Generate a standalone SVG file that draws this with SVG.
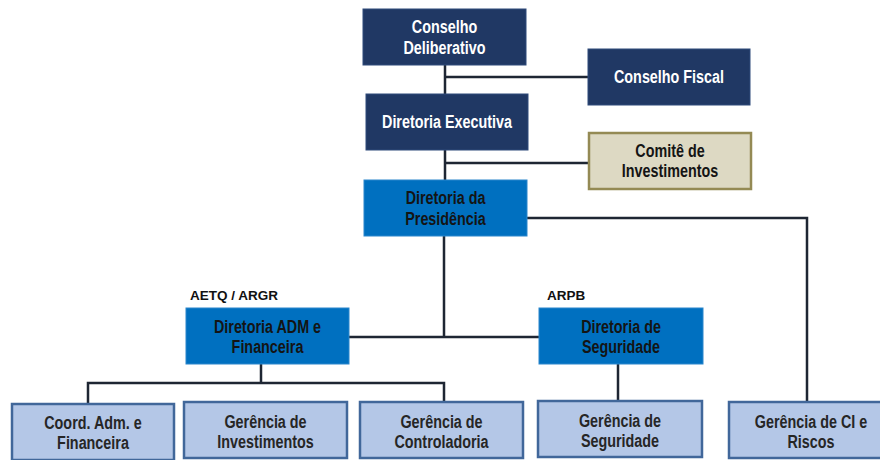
<svg xmlns="http://www.w3.org/2000/svg" width="880" height="460" viewBox="0 0 880 460">
<style>
.navy{fill:#203864;stroke:#2e4a7a;stroke-width:1}
.blue{fill:#0070c0;stroke:#2a86cc;stroke-width:1}
.tan{fill:#ddd9c3;stroke:#948a54;stroke-width:2.5}
.light{fill:#b4c7e7;stroke:#41679a;stroke-width:2.5}
.t{font-family:"Liberation Sans",Arial,sans-serif;font-weight:bold;font-size:17.5px;text-anchor:middle}
.w{fill:#ffffff}
.k{fill:#141414}
.g{fill:#262626}
.lbl{font-family:"Liberation Sans",Arial,sans-serif;font-weight:bold;font-size:13.5px;fill:#111111}
.c{fill:none;stroke:#1e2633;stroke-width:2.5}
</style>
<rect width="880" height="460" fill="#ffffff"/>
<g id="connectors">
<path class="c" d="M445 65V94M445 77H588"/>
<path class="c" d="M445 150V180M446 163H588"/>
<path class="c" d="M527 218H807V402"/>
<path class="c" d="M444 236V337M349 337H539"/>
<path class="c" d="M261 364V383M88 404V383H444V402"/>
<path class="c" d="M618 364V401"/>
</g>
<g id="conselho-deliberativo">
<rect class="navy" x="363" y="9" width="163" height="56"/>
<text class="t w" transform="translate(444.5 33) scale(0.82 1)">Conselho</text>
<text class="t w" transform="translate(444.5 54) scale(0.82 1)">Deliberativo</text>
</g>
<g id="conselho-fiscal">
<rect class="navy" x="588" y="49" width="162" height="56"/>
<text class="t w" transform="translate(669 83) scale(0.82 1)">Conselho Fiscal</text>
</g>
<g id="diretoria-executiva">
<rect class="navy" x="366" y="94" width="162" height="56"/>
<text class="t w" transform="translate(447 128) scale(0.82 1)">Diretoria Executiva</text>
</g>
<g id="comite-investimentos">
<rect class="tan" x="589" y="133" width="162" height="56"/>
<text class="t k" transform="translate(670 157) scale(0.82 1)">Comitê de</text>
<text class="t k" transform="translate(670 177) scale(0.82 1)">Investimentos</text>
</g>
<g id="diretoria-presidencia">
<rect class="blue" x="364" y="180" width="163" height="56"/>
<text class="t k" transform="translate(445.5 204) scale(0.82 1)">Diretoria da</text>
<text class="t k" transform="translate(445.5 225) scale(0.82 1)">Presidência</text>
</g>
<g id="diretoria-adm">
<text class="lbl" x="190" y="300">AETQ / ARGR</text>
<rect class="blue" x="186" y="308" width="163" height="56"/>
<text class="t k" transform="translate(267.5 333) scale(0.82 1)">Diretoria ADM e</text>
<text class="t k" transform="translate(267.5 353) scale(0.82 1)">Financeira</text>
</g>
<g id="diretoria-seguridade">
<text class="lbl" x="547" y="300">ARPB</text>
<rect class="blue" x="539" y="308" width="164" height="56"/>
<text class="t k" transform="translate(621 333) scale(0.82 1)">Diretoria de</text>
<text class="t k" transform="translate(621 353) scale(0.82 1)">Seguridade</text>
</g>
<g id="coord-adm">
<rect class="light" x="12" y="404" width="162" height="56"/>
<text class="t g" transform="translate(93 429) scale(0.82 1)">Coord. Adm. e</text>
<text class="t g" transform="translate(93 449) scale(0.82 1)">Financeira</text>
</g>
<g id="gerencia-investimentos">
<rect class="light" x="184" y="402" width="163" height="56"/>
<text class="t g" transform="translate(265.5 428) scale(0.82 1)">Gerência de</text>
<text class="t g" transform="translate(265.5 448) scale(0.82 1)">Investimentos</text>
</g>
<g id="gerencia-controladoria">
<rect class="light" x="360" y="402" width="163" height="56"/>
<text class="t g" transform="translate(441.5 428) scale(0.82 1)">Gerência de</text>
<text class="t g" transform="translate(441.5 448) scale(0.82 1)">Controladoria</text>
</g>
<g id="gerencia-seguridade">
<rect class="light" x="538" y="401" width="164" height="56"/>
<text class="t g" transform="translate(620 427) scale(0.82 1)">Gerência de</text>
<text class="t g" transform="translate(620 447) scale(0.82 1)">Seguridade</text>
</g>
<g id="gerencia-ci-riscos">
<rect class="light" x="729" y="402" width="164" height="56"/>
<text class="t g" transform="translate(811 428) scale(0.82 1)">Gerência de CI e</text>
<text class="t g" transform="translate(811 448) scale(0.82 1)">Riscos</text>
</g>
</svg>
